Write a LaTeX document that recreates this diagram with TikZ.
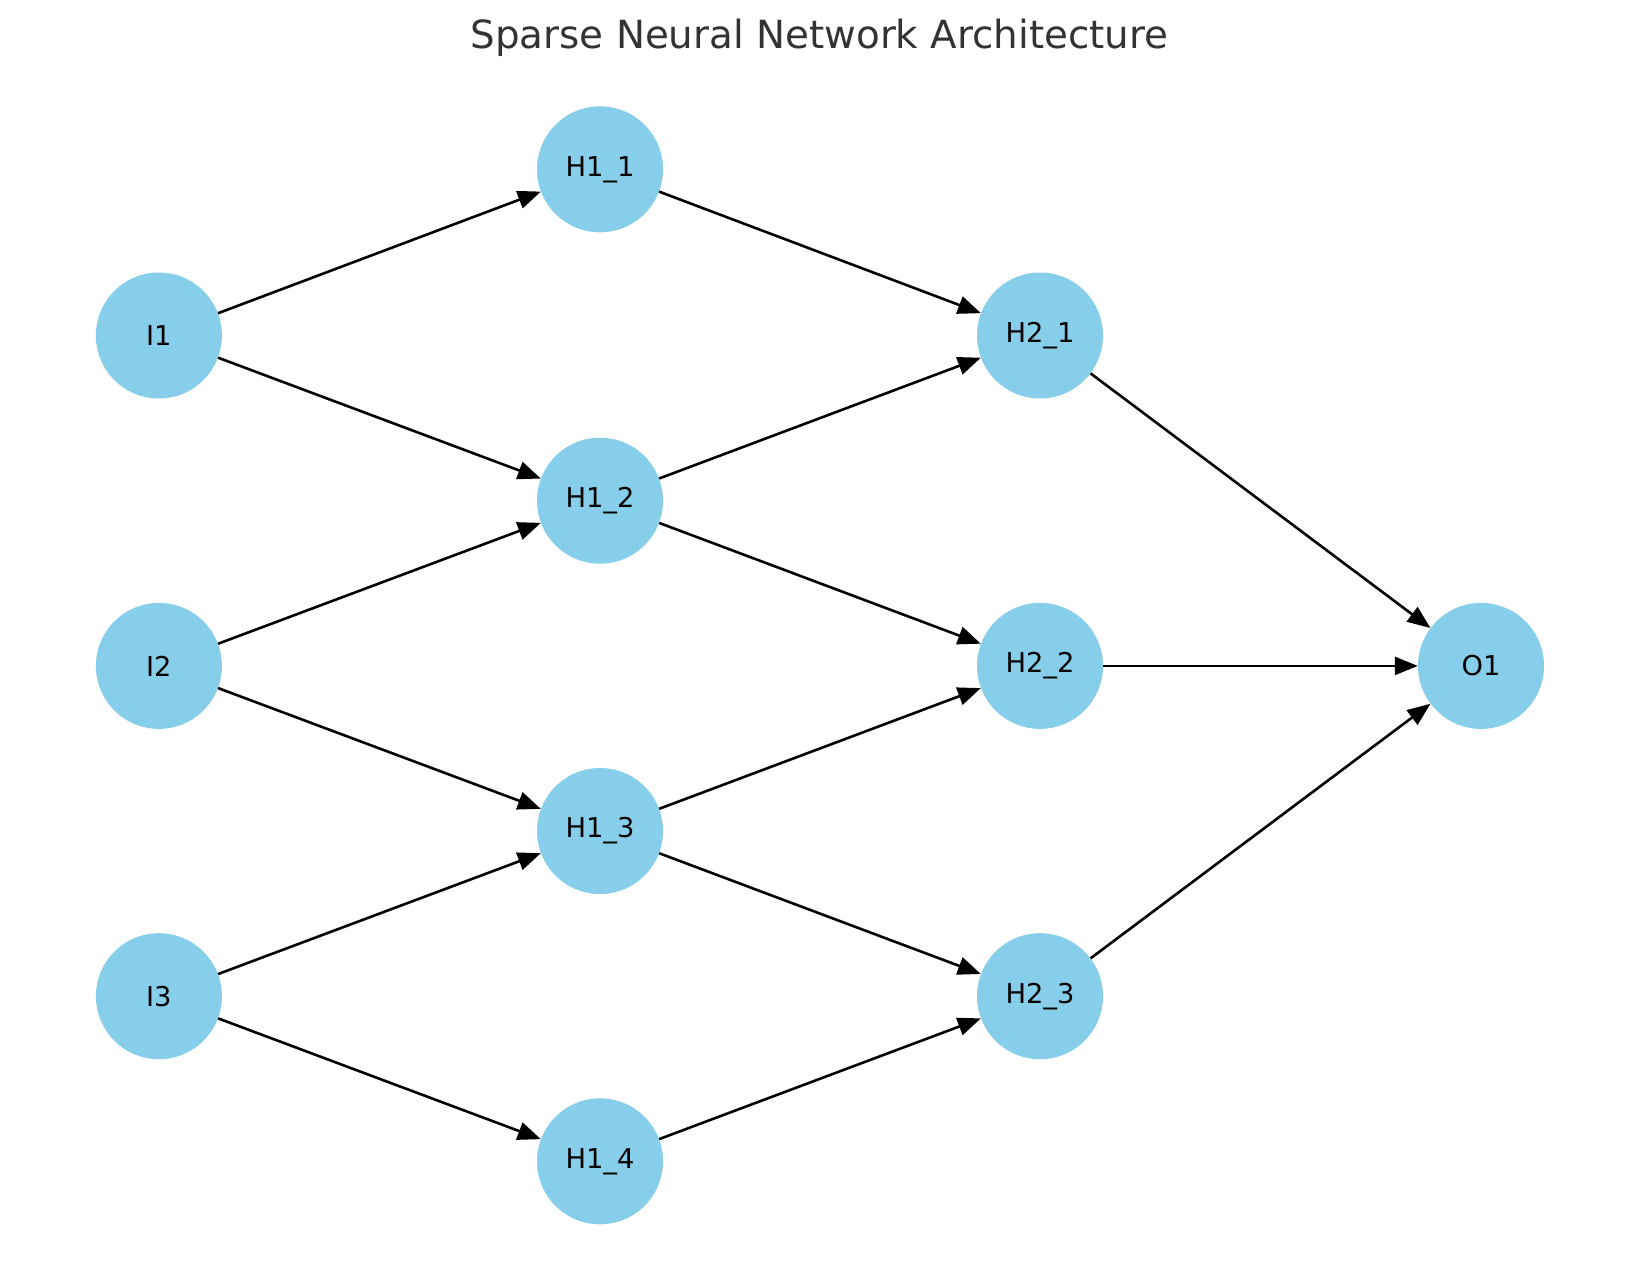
\documentclass[tikz,border=0pt]{standalone}
\usepackage{fontspec}
\setmainfont{DejaVu Sans}
\usetikzlibrary{arrows.meta}
\definecolor{skyb}{HTML}{87CEEB}
\definecolor{titlegray}{HTML}{333333}
\tikzset{
  neuron/.style={circle, fill=skyb, draw=none, minimum size=126pt, inner sep=0pt, font=\fontsize{27.3}{32}\selectfont},
  conn/.style={line width=2.6pt, -{Triangle[length=23pt,width=18pt]}}
}
\begin{document}
\begin{tikzpicture}[x=1pt,y=-1pt]
\useasboundingbox (0,0) rectangle (1639,1286);
\node[font=\fontsize{38.8}{46}\selectfont, text=titlegray] (title) at (819.5,37.6) {Sparse Neural Network Architecture};
\node[neuron] (I1) at (158.9,335.5) {I1};
\node[neuron] (I2) at (158.9,665.9) {I2};
\node[neuron] (I3) at (158.9,996.2) {I3};
\node[neuron] (H11) at (600,169.3) {H1\_1};
\node[neuron] (H12) at (600,500.7) {H1\_2};
\node[neuron] (H13) at (600,831) {H1\_3};
\node[neuron] (H14) at (600,1161.3) {H1\_4};
\node[neuron] (H21) at (1040,335.5) {H2\_1};
\node[neuron] (H22) at (1040,665.9) {H2\_2};
\node[neuron] (H23) at (1040,996.2) {H2\_3};
\node[neuron] (O1) at (1481,665.9) {O1};
\foreach \a/\b in {I1/H11,I1/H12,I2/H12,I2/H13,I3/H13,I3/H14,H11/H21,H12/H21,H12/H22,H13/H22,H13/H23,H14/H23,H21/O1,H22/O1,H23/O1}
  \draw[conn] (\a) -- (\b);
\end{tikzpicture}
\end{document}
